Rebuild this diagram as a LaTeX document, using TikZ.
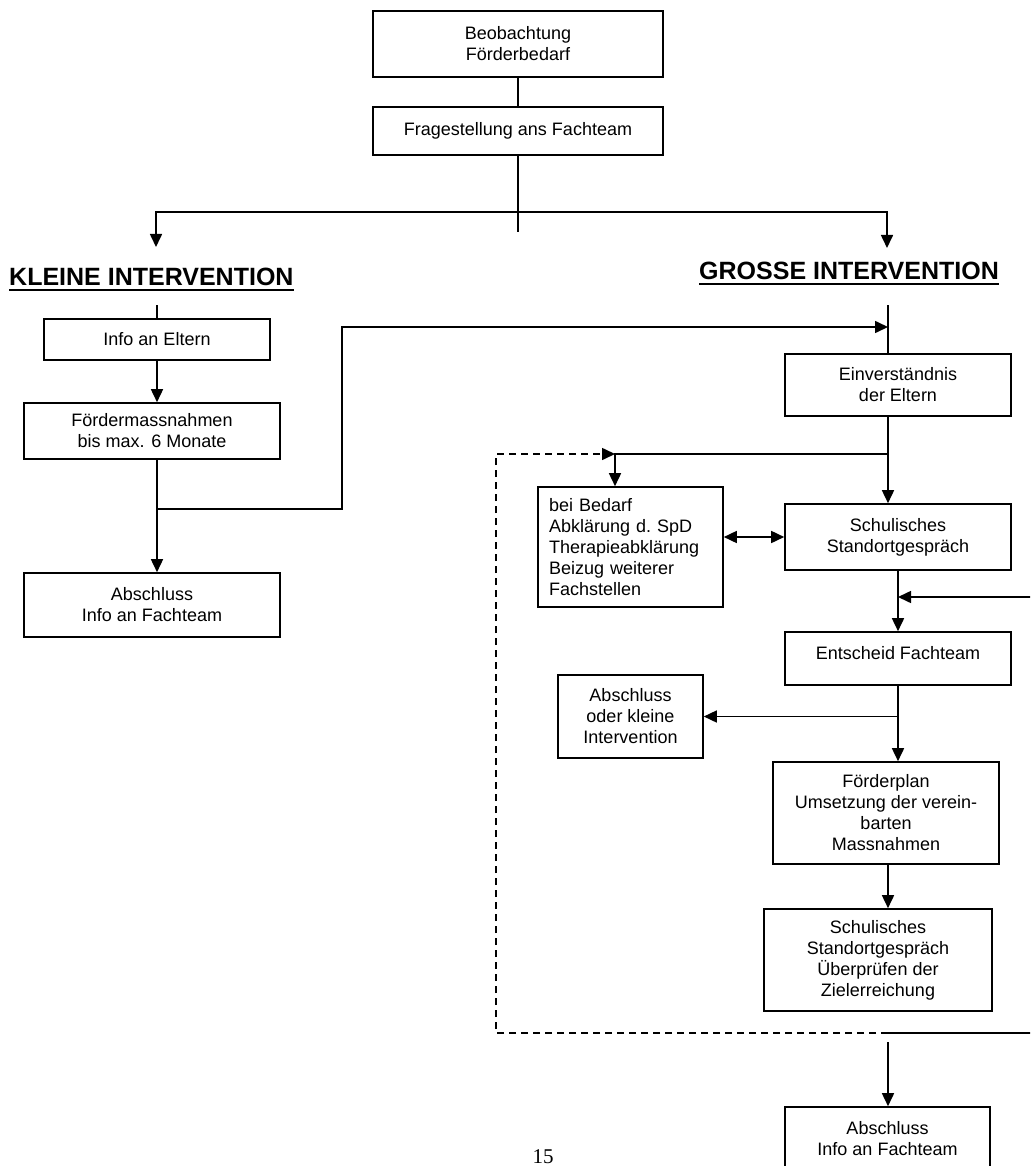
\documentclass[tikz,border=0pt]{standalone}
\usepackage{fontspec}
\setmainfont{Liberation Sans}
\newfontfamily\seitenfont{Liberation Serif}
\usetikzlibrary{arrows.meta}

\begin{document}
\begin{tikzpicture}[x=1pt,y=-1pt,
    kasten/.style={draw, line width=1.6pt, inner sep=0pt, align=center,
      font=\fontsize{18}{21}\selectfont},
    titel/.style={inner sep=0pt, anchor=base west,
      font=\bfseries\fontsize{25}{30}\selectfont},
    linie/.style={line width=1.6pt},
    pfeil/.style={linie, -{Triangle[length=13pt,width=12pt]}},
    doppelpfeil/.style={linie, {Triangle[length=13pt,width=12pt]}-{Triangle[length=13pt,width=12pt]}},
    ruecklauf/.style={pfeil, dash pattern=on 7pt off 5pt}]

        % page frame
        \useasboundingbox (0,0) rectangle (1030,1166);
        \clip (0,0) rectangle (1030,1166);

        % draw boxes on top
        \node[kasten, minimum width=290pt, minimum height=66pt] (beob) at (518,44) {Beobachtung\\Förderbedarf};
        \node[kasten, minimum width=290pt, minimum height=48pt] (frage) at (518,131) {Fragestellung ans Fachteam};

        % draw titles
        \node[titel] (kl) at (9,285) {KLEINE INTERVENTION};
        \node[titel] (gr) at (699,279) {GROSSE INTERVENTION};
        \draw[line width=2.2pt] ([yshift=-5pt]kl.base west) -- ([yshift=-5pt]kl.base east);
        \draw[line width=2.2pt] ([yshift=-5pt]gr.base west) -- ([yshift=-5pt]gr.base east);

        % draw boxes left
        \node[kasten, minimum width=226pt, minimum height=41pt] (info) at (157,339.5) {Info an Eltern};
        \node[kasten, minimum width=256pt, minimum height=56pt] (foerder) at (152,431) {Fördermassnahmen\\bis max. 6 Monate};
        \node[kasten, minimum width=256pt, minimum height=64pt] (abschlkl) at (152,605) {Abschluss\\Info an Fachteam};

        % draw boxes right
        \node[kasten, minimum width=226pt, minimum height=62pt] (einv) at (898,385) {Einverständnis\\der Eltern};
        \node[kasten, minimum width=226pt, minimum height=66pt] (schul) at (898,537) {Schulisches\\Standortgespräch};
        \node[kasten, align=left, text width=163pt, inner xsep=11pt, minimum height=120pt] (bedarf) at (630.5,547)
            {bei Bedarf\\Abklärung d.\ SpD\\Therapieabklärung\\Beizug weiterer\\Fachstellen};
        \node[kasten, minimum width=226pt, minimum height=53pt, text depth=12pt] (entsch) at (898,658.5) {Entscheid Fachteam};
        \node[kasten, minimum width=145pt, minimum height=83pt] (abschloder) at (630.5,716.5) {Abschluss\\oder kleine\\Intervention};
        \node[kasten, minimum width=226pt, minimum height=102pt] (plan) at (886,813) {Förderplan\\Umsetzung der verein-\\barten\\Massnahmen};
        \node[kasten, minimum width=228pt, minimum height=102pt] (schulzwei) at (878,960) {Schulisches\\Standortgespräch\\Überprüfen der\\Zielerreichung};
        \node[kasten, minimum width=205pt, minimum height=64pt] (abschlgr) at (887.5,1139) {Abschluss\\Info an Fachteam};

        % page number
        \node[inner sep=0pt, anchor=base, font=\seitenfont\fontsize{21}{25}\selectfont] (seite) at (543,1163) {15};

        % help points
        \coordinate (gabel) at (518,212);
        \coordinate (stiel) at (518,232);
        \coordinate (zielkl) at (156,247);
        \coordinate (zielgr) at (887,248);
        \coordinate (kltop) at (157,305);
        \coordinate (klast) at (157,509);
        \coordinate (rueck) at (342,327);
        \coordinate (grtop) at (888,305);
        \coordinate (abzw) at (888,454);
        \coordinate (bedarfein) at (615,454);
        \coordinate (eckeo) at (496,454);
        \coordinate (eckeu) at (496,1033);
        \coordinate (sammel) at (888,1033);
        \coordinate (sammelab) at (888,1042);
        \coordinate (rechtsu) at (1045,1033);
        \coordinate (einmuend) at (898,597);

        % draw connectors top
        \draw[linie] (beob.south) -- (frage.north);
        \draw[linie] (frage.south) -- (stiel);
        \draw[pfeil] (gabel) -| (zielkl);
        \draw[pfeil] (gabel) -| (zielgr);

        % draw connectors left
        \draw[linie] (kltop) -- (info.north);
        \draw[pfeil] (info.south) -- (info.south |- foerder.north);
        \draw[pfeil] (info.south |- foerder.south) -- (info.south |- abschlkl.north);
        \draw[pfeil] (klast) -| (rueck) -- (rueck -| grtop);

        % draw connectors right
        \draw[linie] (grtop) -- (grtop |- einv.north);
        \draw[pfeil] (grtop |- einv.south) -- (grtop |- schul.north);
        \draw[pfeil] (abzw) -- (bedarfein) -- (bedarfein |- bedarf.north);
        \draw[ruecklauf] (sammel) -- (eckeu) -- (eckeo) -- (bedarfein);
        \draw[doppelpfeil] (bedarf.east |- schul.west) -- (schul.west);
        \draw[pfeil] (schul.south) -- (entsch.north);
        \draw[pfeil] (sammel) -- (rechtsu) |- (einmuend);
        \draw[pfeil] (entsch.south) -- (entsch.south |- plan.north);
        \draw[pfeil] (entsch.south |- abschloder.east) -- (abschloder.east);
        \draw[pfeil] (plan.south -| sammel) -- (sammel |- schulzwei.north);
        \draw[pfeil] (sammelab) -- (sammelab |- abschlgr.north);
\end{tikzpicture}
\end{document}
